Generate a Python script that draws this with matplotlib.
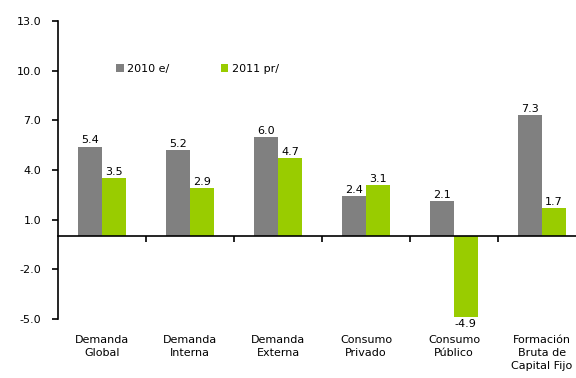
import matplotlib
matplotlib.use("Agg")
import matplotlib.pyplot as plt
import matplotlib.transforms as mtransforms
import numpy as np

categories = ["Demanda\nGlobal", "Demanda\nInterna", "Demanda\nExterna",
              "Consumo\nPrivado", "Consumo\nPúblico", "Formación\nBruta de\nCapital Fijo"]
series_2010 = [5.4, 5.2, 6.0, 2.4, 2.1, 7.3]
series_2011 = [3.5, 2.9, 4.7, 3.1, -4.9, 1.7]
series_names = ["2010 e/", "2011 pr/"]
yticks = [13.0, 10.0, 7.0, 4.0, 1.0, -2.0, -5.0]

gray = "#808080"
green = "#99CC00"
fs = 8

plt.rcParams["font.family"] = ["DejaVu Sans"]
fig = plt.figure(figsize=(5.76, 3.78), dpi=100)
ax = fig.add_axes([58 / 576, 59 / 378, 528 / 576, 298 / 378])

x = np.arange(len(categories))
w = 0.27
b1 = ax.bar(x - w / 2, series_2010, w, color=gray, label=series_names[0])
b2 = ax.bar(x + w / 2, series_2011, w, color=green, label=series_names[1])

for bars, vals in ((b1, series_2010), (b2, series_2011)):
    for rect, v in zip(bars, vals):
        cx = rect.get_x() + rect.get_width() / 2
        if v >= 0:
            ax.text(cx, v + 0.08, f"{v:.1f}", ha="center", va="bottom", fontsize=fs)
        else:
            ax.text(cx, v - 0.08, f"{v:.1f}", ha="center", va="top", fontsize=fs)

ax.set_xlim(-0.5, len(categories) - 0.5)
ax.set_ylim(-5, 13)
ax.set_yticks(yticks)
ax.set_yticklabels([f"{t:.1f}" for t in yticks], fontsize=fs)
ax.tick_params(axis="y", direction="out", length=4, width=1.2, pad=8)

for s in ("top", "right"):
    ax.spines[s].set_visible(False)
ax.spines["left"].set_linewidth(1.2)
ax.spines["bottom"].set_position(("data", 0))
ax.spines["bottom"].set_linewidth(1.2)
ax.set_xticks(np.arange(len(categories) - 1) + 0.5)
ax.set_xticklabels([])
ax.tick_params(axis="x", direction="out", length=4, width=1.2)

trans = mtransforms.blended_transform_factory(ax.transData, ax.transAxes)
for xi, cat in zip(x, categories):
    ax.text(xi, -0.055, cat, transform=trans, ha="center", va="top",
            fontsize=fs, linespacing=1.35)

ax.legend(loc="upper left", bbox_to_anchor=(0.11, 0.855), ncol=2, frameon=False,
          fontsize=fs, handlelength=0.7, handleheight=0.7, handletextpad=0.3,
          columnspacing=4.6, borderpad=0, borderaxespad=0)

fig.savefig("out.png", dpi=100)
